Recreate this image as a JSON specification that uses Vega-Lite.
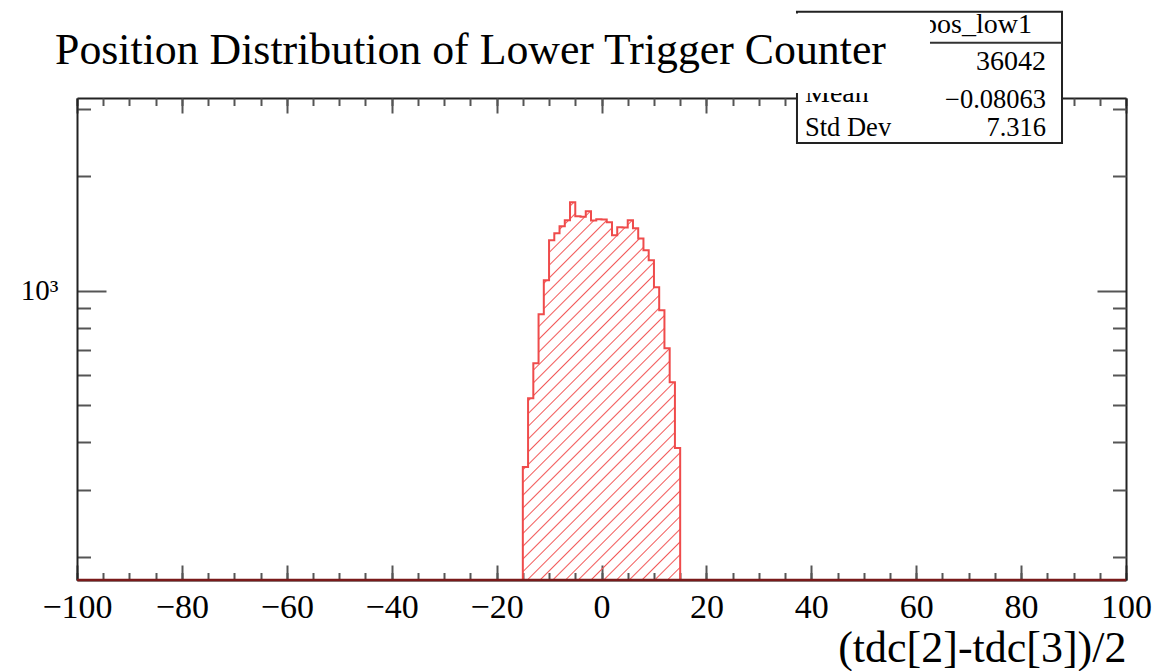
{
  "$schema": "https://vega.github.io/schema/vega-lite/v6.json",
  "width": 1049,
  "height": 482,
  "autosize": {"type": "none"},
  "padding": {"left": 77, "top": 98, "right": 45, "bottom": 91},
  "background": "white",
  "config": {
    "view": {"stroke": null},
    "axis": {"grid": false, "labelFont": "Liberation Serif", "titleFont": "Liberation Serif", "labelColor": "#000", "titleColor": "#000", "domainColor": "#222", "domainWidth": 2, "tickColor": "#555", "tickWidth": 2, "labelFlush": false, "labelOverlap": false, "labelBound": false}
  },
  "datasets": {
    "hist": [
      {"lo": -15, "hi": -14, "n": 344},
      {"lo": -14, "hi": -13, "n": 522},
      {"lo": -13, "hi": -12, "n": 645},
      {"lo": -12, "hi": -11, "n": 868},
      {"lo": -11, "hi": -10, "n": 1066},
      {"lo": -10, "hi": -9, "n": 1357},
      {"lo": -9, "hi": -8, "n": 1416},
      {"lo": -8, "hi": -7, "n": 1477},
      {"lo": -7, "hi": -6, "n": 1532},
      {"lo": -6, "hi": -5, "n": 1708},
      {"lo": -5, "hi": -4, "n": 1571},
      {"lo": -4, "hi": -3, "n": 1566},
      {"lo": -3, "hi": -2, "n": 1618},
      {"lo": -2, "hi": -1, "n": 1530},
      {"lo": -1, "hi": 0, "n": 1543},
      {"lo": 0, "hi": 1, "n": 1539},
      {"lo": 1, "hi": 2, "n": 1514},
      {"lo": 2, "hi": 3, "n": 1399},
      {"lo": 3, "hi": 4, "n": 1470},
      {"lo": 4, "hi": 5, "n": 1466},
      {"lo": 5, "hi": 6, "n": 1532},
      {"lo": 6, "hi": 7, "n": 1460},
      {"lo": 7, "hi": 8, "n": 1373},
      {"lo": 8, "hi": 9, "n": 1278},
      {"lo": 9, "hi": 10, "n": 1203},
      {"lo": 10, "hi": 11, "n": 1021},
      {"lo": 11, "hi": 12, "n": 889},
      {"lo": 12, "hi": 13, "n": 706},
      {"lo": 13, "hi": 14, "n": 575},
      {"lo": 14, "hi": 15, "n": 386}
    ]
  },
  "resolve": {"axis": {"x": "independent", "y": "independent"}},
  "layer": [
    {
      "data": {"name": "hist"},
      "transform": [{"fold": ["lo", "hi"], "as": ["edge", "x"]}],
      "mark": {
        "type": "area",
        "interpolate": "linear",
        "stroke": "#ef4b4b",
        "strokeWidth": 2,
        "fill": {
          "gradient": "linear", "x1": 0, "y1": 0, "x2": 0.503, "y2": 1.2071,
          "stops": [
            {"offset": 0, "color": "#f25a5a"}, {"offset": 0.0027, "color": "rgba(242,90,90,0)"}, {"offset": 0.0211, "color": "rgba(242,90,90,0)"},
            {"offset": 0.0238, "color": "#f25a5a"}, {"offset": 0.0265, "color": "rgba(242,90,90,0)"}, {"offset": 0.0449, "color": "rgba(242,90,90,0)"},
            {"offset": 0.0476, "color": "#f25a5a"}, {"offset": 0.0503, "color": "rgba(242,90,90,0)"}, {"offset": 0.0687, "color": "rgba(242,90,90,0)"},
            {"offset": 0.0714, "color": "#f25a5a"}, {"offset": 0.0741, "color": "rgba(242,90,90,0)"}, {"offset": 0.0925, "color": "rgba(242,90,90,0)"},
            {"offset": 0.0952, "color": "#f25a5a"}, {"offset": 0.0979, "color": "rgba(242,90,90,0)"}, {"offset": 0.1163, "color": "rgba(242,90,90,0)"},
            {"offset": 0.1190, "color": "#f25a5a"}, {"offset": 0.1217, "color": "rgba(242,90,90,0)"}, {"offset": 0.1402, "color": "rgba(242,90,90,0)"},
            {"offset": 0.1429, "color": "#f25a5a"}, {"offset": 0.1456, "color": "rgba(242,90,90,0)"}, {"offset": 0.1640, "color": "rgba(242,90,90,0)"},
            {"offset": 0.1667, "color": "#f25a5a"}, {"offset": 0.1694, "color": "rgba(242,90,90,0)"}, {"offset": 0.1878, "color": "rgba(242,90,90,0)"},
            {"offset": 0.1905, "color": "#f25a5a"}, {"offset": 0.1932, "color": "rgba(242,90,90,0)"}, {"offset": 0.2116, "color": "rgba(242,90,90,0)"},
            {"offset": 0.2143, "color": "#f25a5a"}, {"offset": 0.2170, "color": "rgba(242,90,90,0)"}, {"offset": 0.2354, "color": "rgba(242,90,90,0)"},
            {"offset": 0.2381, "color": "#f25a5a"}, {"offset": 0.2408, "color": "rgba(242,90,90,0)"}, {"offset": 0.2592, "color": "rgba(242,90,90,0)"},
            {"offset": 0.2619, "color": "#f25a5a"}, {"offset": 0.2646, "color": "rgba(242,90,90,0)"}, {"offset": 0.2830, "color": "rgba(242,90,90,0)"},
            {"offset": 0.2857, "color": "#f25a5a"}, {"offset": 0.2884, "color": "rgba(242,90,90,0)"}, {"offset": 0.3068, "color": "rgba(242,90,90,0)"},
            {"offset": 0.3095, "color": "#f25a5a"}, {"offset": 0.3122, "color": "rgba(242,90,90,0)"}, {"offset": 0.3306, "color": "rgba(242,90,90,0)"},
            {"offset": 0.3333, "color": "#f25a5a"}, {"offset": 0.3360, "color": "rgba(242,90,90,0)"}, {"offset": 0.3544, "color": "rgba(242,90,90,0)"},
            {"offset": 0.3571, "color": "#f25a5a"}, {"offset": 0.3598, "color": "rgba(242,90,90,0)"}, {"offset": 0.3783, "color": "rgba(242,90,90,0)"},
            {"offset": 0.3810, "color": "#f25a5a"}, {"offset": 0.3837, "color": "rgba(242,90,90,0)"}, {"offset": 0.4021, "color": "rgba(242,90,90,0)"},
            {"offset": 0.4048, "color": "#f25a5a"}, {"offset": 0.4075, "color": "rgba(242,90,90,0)"}, {"offset": 0.4259, "color": "rgba(242,90,90,0)"},
            {"offset": 0.4286, "color": "#f25a5a"}, {"offset": 0.4313, "color": "rgba(242,90,90,0)"}, {"offset": 0.4497, "color": "rgba(242,90,90,0)"},
            {"offset": 0.4524, "color": "#f25a5a"}, {"offset": 0.4551, "color": "rgba(242,90,90,0)"}, {"offset": 0.4735, "color": "rgba(242,90,90,0)"},
            {"offset": 0.4762, "color": "#f25a5a"}, {"offset": 0.4789, "color": "rgba(242,90,90,0)"}, {"offset": 0.4973, "color": "rgba(242,90,90,0)"},
            {"offset": 0.5000, "color": "#f25a5a"}, {"offset": 0.5027, "color": "rgba(242,90,90,0)"}, {"offset": 0.5211, "color": "rgba(242,90,90,0)"},
            {"offset": 0.5238, "color": "#f25a5a"}, {"offset": 0.5265, "color": "rgba(242,90,90,0)"}, {"offset": 0.5449, "color": "rgba(242,90,90,0)"},
            {"offset": 0.5476, "color": "#f25a5a"}, {"offset": 0.5503, "color": "rgba(242,90,90,0)"}, {"offset": 0.5687, "color": "rgba(242,90,90,0)"},
            {"offset": 0.5714, "color": "#f25a5a"}, {"offset": 0.5741, "color": "rgba(242,90,90,0)"}, {"offset": 0.5925, "color": "rgba(242,90,90,0)"},
            {"offset": 0.5952, "color": "#f25a5a"}, {"offset": 0.5979, "color": "rgba(242,90,90,0)"}, {"offset": 0.6163, "color": "rgba(242,90,90,0)"},
            {"offset": 0.6190, "color": "#f25a5a"}, {"offset": 0.6217, "color": "rgba(242,90,90,0)"}, {"offset": 0.6402, "color": "rgba(242,90,90,0)"},
            {"offset": 0.6429, "color": "#f25a5a"}, {"offset": 0.6456, "color": "rgba(242,90,90,0)"}, {"offset": 0.6640, "color": "rgba(242,90,90,0)"},
            {"offset": 0.6667, "color": "#f25a5a"}, {"offset": 0.6694, "color": "rgba(242,90,90,0)"}, {"offset": 0.6878, "color": "rgba(242,90,90,0)"},
            {"offset": 0.6905, "color": "#f25a5a"}, {"offset": 0.6932, "color": "rgba(242,90,90,0)"}, {"offset": 0.7116, "color": "rgba(242,90,90,0)"},
            {"offset": 0.7143, "color": "#f25a5a"}, {"offset": 0.7170, "color": "rgba(242,90,90,0)"}, {"offset": 0.7354, "color": "rgba(242,90,90,0)"},
            {"offset": 0.7381, "color": "#f25a5a"}, {"offset": 0.7408, "color": "rgba(242,90,90,0)"}, {"offset": 0.7592, "color": "rgba(242,90,90,0)"},
            {"offset": 0.7619, "color": "#f25a5a"}, {"offset": 0.7646, "color": "rgba(242,90,90,0)"}, {"offset": 0.7830, "color": "rgba(242,90,90,0)"},
            {"offset": 0.7857, "color": "#f25a5a"}, {"offset": 0.7884, "color": "rgba(242,90,90,0)"}, {"offset": 0.8068, "color": "rgba(242,90,90,0)"},
            {"offset": 0.8095, "color": "#f25a5a"}, {"offset": 0.8122, "color": "rgba(242,90,90,0)"}, {"offset": 0.8306, "color": "rgba(242,90,90,0)"},
            {"offset": 0.8333, "color": "#f25a5a"}, {"offset": 0.8360, "color": "rgba(242,90,90,0)"}, {"offset": 0.8544, "color": "rgba(242,90,90,0)"},
            {"offset": 0.8571, "color": "#f25a5a"}, {"offset": 0.8598, "color": "rgba(242,90,90,0)"}, {"offset": 0.8783, "color": "rgba(242,90,90,0)"},
            {"offset": 0.8810, "color": "#f25a5a"}, {"offset": 0.8837, "color": "rgba(242,90,90,0)"}, {"offset": 0.9021, "color": "rgba(242,90,90,0)"},
            {"offset": 0.9048, "color": "#f25a5a"}, {"offset": 0.9075, "color": "rgba(242,90,90,0)"}, {"offset": 0.9259, "color": "rgba(242,90,90,0)"},
            {"offset": 0.9286, "color": "#f25a5a"}, {"offset": 0.9313, "color": "rgba(242,90,90,0)"}, {"offset": 0.9497, "color": "rgba(242,90,90,0)"},
            {"offset": 0.9524, "color": "#f25a5a"}, {"offset": 0.9551, "color": "rgba(242,90,90,0)"}, {"offset": 0.9735, "color": "rgba(242,90,90,0)"},
            {"offset": 0.9762, "color": "#f25a5a"}, {"offset": 0.9789, "color": "rgba(242,90,90,0)"}, {"offset": 0.9973, "color": "rgba(242,90,90,0)"},
            {"offset": 1, "color": "#f25a5a"}
          ]
        }
      },
      "encoding": {
        "x": {"field": "x", "type": "quantitative", "scale": {"domain": [-100, 100], "nice": false, "zero": false},
              "axis": {"orient": "bottom", "values": [-100, -80, -60, -40, -20, 0, 20, 40, 60, 80, 100], "labels": false, "domain": false, "tickSize": -15, "title": null}},
        "y": {"field": "n", "type": "quantitative", "stack": null, "scale": {"type": "log", "domain": [173.6, 3213], "nice": false},
              "axis": {"orient": "left", "values": [1000], "labels": false, "domain": false, "tickSize": -29, "title": null}},
        "y2": {"datum": 173.6},
        "order": [{"field": "x", "type": "quantitative", "sort": "ascending"}, {"field": "edge", "type": "nominal", "sort": "ascending"}]
      }
    },
    {
      "data": {"values": [{}]},
      "mark": {"type": "rule", "color": "#7a1a1a", "strokeWidth": 2.5},
      "encoding": {
        "x": {"datum": -100, "type": "quantitative", "scale": {"domain": [-100, 100], "nice": false, "zero": false},
              "axis": {"orient": "bottom", "values": [-100, -95, -90, -85, -80, -75, -70, -65, -60, -55, -50, -45, -40, -35, -30, -25, -20, -15, -10, -5, 0, 5, 10, 15, 20, 25, 30, 35, 40, 45, 50, 55, 60, 65, 70, 75, 80, 85, 90, 95, 100], "labels": false, "domain": false, "tickSize": -7.5, "title": null}},
        "x2": {"datum": 100},
        "y": {"datum": 173.6, "type": "quantitative", "scale": {"type": "log", "domain": [173.6, 3213], "nice": false},
              "axis": {"orient": "left", "values": [200, 300, 400, 500, 600, 700, 800, 900, 2000, 3000], "labels": false, "domain": false, "tickSize": -13.5, "title": null}}
      }
    },
    {
      "data": {"values": [{}]},
      "mark": {"type": "rect", "fill": "white", "stroke": "#222", "strokeWidth": 2},
      "encoding": {
        "x": {"datum": 37.27, "type": "quantitative", "scale": {"domain": [-100, 100], "nice": false, "zero": false},
              "axis": {"orient": "top", "values": [-100, -80, -60, -40, -20, 0, 20, 40, 60, 80, 100], "labels": false, "domain": true, "tickSize": -15, "title": null}},
        "x2": {"datum": 87.8},
        "y": {"datum": 5419, "type": "quantitative", "scale": {"type": "log", "domain": [173.6, 3213], "nice": false},
              "axis": {"orient": "right", "values": [1000], "labels": false, "domain": true, "tickSize": -29, "title": null}},
        "y2": {"datum": 2447}
      }
    },
    {
      "data": {"values": [{}]},
      "mark": {"type": "rule", "color": "#333", "strokeWidth": 2},
      "encoding": {
        "x": {"datum": 37.27, "type": "quantitative", "scale": {"domain": [-100, 100], "nice": false, "zero": false},
              "axis": {"orient": "top", "values": [-100, -95, -90, -85, -80, -75, -70, -65, -60, -55, -50, -45, -40, -35, -30, -25, -20, -15, -10, -5, 0, 5, 10, 15, 20, 25, 30, 35, 40, 45, 50, 55, 60, 65, 70, 75, 80, 85, 90, 95, 100], "labels": false, "domain": false, "tickSize": -7.5, "title": null}},
        "x2": {"datum": 87.8},
        "y": {"datum": 4492, "type": "quantitative", "scale": {"type": "log", "domain": [173.6, 3213], "nice": false},
              "axis": {"orient": "right", "values": [200, 300, 400, 500, 600, 700, 800, 900, 2000, 3000], "labels": false, "domain": false, "tickSize": -13.5, "title": null}}
      }
    },
    {
      "data": {"values": [{}]},
      "mark": {"type": "text", "text": "pos_low1", "font": "Liberation Serif", "fontSize": 28, "align": "right", "baseline": "alphabetic", "color": "#000"},
      "encoding": {
        "x": {"datum": 82.08, "type": "quantitative", "scale": {"domain": [-100, 100], "nice": false, "zero": false}, "axis": null},
        "y": {"datum": 4754, "type": "quantitative", "scale": {"type": "log", "domain": [173.6, 3213], "nice": false}, "axis": null}
      }
    },
    {
      "data": {"values": [{}]},
      "mark": {"type": "text", "text": "36042", "font": "Liberation Serif", "fontSize": 28, "align": "right", "baseline": "alphabetic", "color": "#000"},
      "encoding": {
        "x": {"datum": 84.75, "type": "quantitative", "scale": {"domain": [-100, 100], "nice": false, "zero": false}, "axis": null},
        "y": {"datum": 3807, "type": "quantitative", "scale": {"type": "log", "domain": [173.6, 3213], "nice": false}, "axis": null}
      }
    },
    {
      "data": {"values": [{}]},
      "mark": {"type": "text", "text": "Mean", "font": "Liberation Serif", "fontSize": 28, "align": "left", "baseline": "alphabetic", "color": "#000"},
      "encoding": {
        "x": {"datum": 38.8, "type": "quantitative", "scale": {"domain": [-100, 100], "nice": false, "zero": false}, "axis": null},
        "y": {"datum": 3142, "type": "quantitative", "scale": {"type": "log", "domain": [173.6, 3213], "nice": false}, "axis": null}
      }
    },
    {
      "data": {"values": [{}]},
      "mark": {"type": "text", "text": "−0.08063", "font": "Liberation Serif", "fontSize": 26.5, "align": "right", "baseline": "alphabetic", "color": "#000"},
      "encoding": {
        "x": {"datum": 84.75, "type": "quantitative", "scale": {"domain": [-100, 100], "nice": false, "zero": false}, "axis": null},
        "y": {"datum": 3025, "type": "quantitative", "scale": {"type": "log", "domain": [173.6, 3213], "nice": false}, "axis": null}
      }
    },
    {
      "data": {"values": [{}]},
      "mark": {"type": "text", "text": "Std Dev", "font": "Liberation Serif", "fontSize": 26.5, "align": "left", "baseline": "alphabetic", "color": "#000"},
      "encoding": {
        "x": {"datum": 38.8, "type": "quantitative", "scale": {"domain": [-100, 100], "nice": false, "zero": false}, "axis": null},
        "y": {"datum": 2560, "type": "quantitative", "scale": {"type": "log", "domain": [173.6, 3213], "nice": false}, "axis": null}
      }
    },
    {
      "data": {"values": [{}]},
      "mark": {"type": "text", "text": "7.316", "font": "Liberation Serif", "fontSize": 26.5, "align": "right", "baseline": "alphabetic", "color": "#000"},
      "encoding": {
        "x": {"datum": 84.75, "type": "quantitative", "scale": {"domain": [-100, 100], "nice": false, "zero": false}, "axis": null},
        "y": {"datum": 2560, "type": "quantitative", "scale": {"type": "log", "domain": [173.6, 3213], "nice": false}, "axis": null}
      }
    },
    {
      "data": {"values": [{}]},
      "mark": {"type": "rect", "fill": "white", "strokeWidth": 0},
      "encoding": {
        "x": {"datum": 30, "type": "quantitative", "scale": {"domain": [-100, 100], "nice": false, "zero": false},
              "axis": {"orient": "bottom", "values": [-100, -80, -60, -40, -20, 0, 20, 40, 60, 80, 100], "ticks": false, "domain": true, "labels": true, "labelFontSize": 34, "labelPadding": 10, "title": "(tdc[2]-tdc[3])/2", "titleFontSize": 44, "titleFontWeight": "normal", "titleAnchor": "end", "titleBaseline": "alphabetic", "titleY": 81}},
        "x2": {"datum": 62.63},
        "y": {"datum": 5360, "type": "quantitative", "scale": {"type": "log", "domain": [173.6, 3213], "nice": false},
              "axis": {"orient": "left", "values": [1000], "ticks": false, "domain": true, "labels": true, "labelExpr": "'10³'", "labelFontSize": 29, "labelPadding": 19, "title": null}},
        "y2": {"datum": 3312}
      }
    },
    {
      "data": {"values": [{}]},
      "mark": {"type": "text", "text": "Position Distribution of Lower Trigger Counter", "font": "Liberation Serif", "fontSize": 43.8, "align": "left", "baseline": "alphabetic", "color": "#000"},
      "encoding": {
        "x": {"datum": -104.19, "type": "quantitative", "scale": {"domain": [-100, 100], "nice": false, "zero": false}, "axis": null},
        "y": {"datum": 3949, "type": "quantitative", "scale": {"type": "log", "domain": [173.6, 3213], "nice": false}, "axis": null}
      }
    }
  ]
}
